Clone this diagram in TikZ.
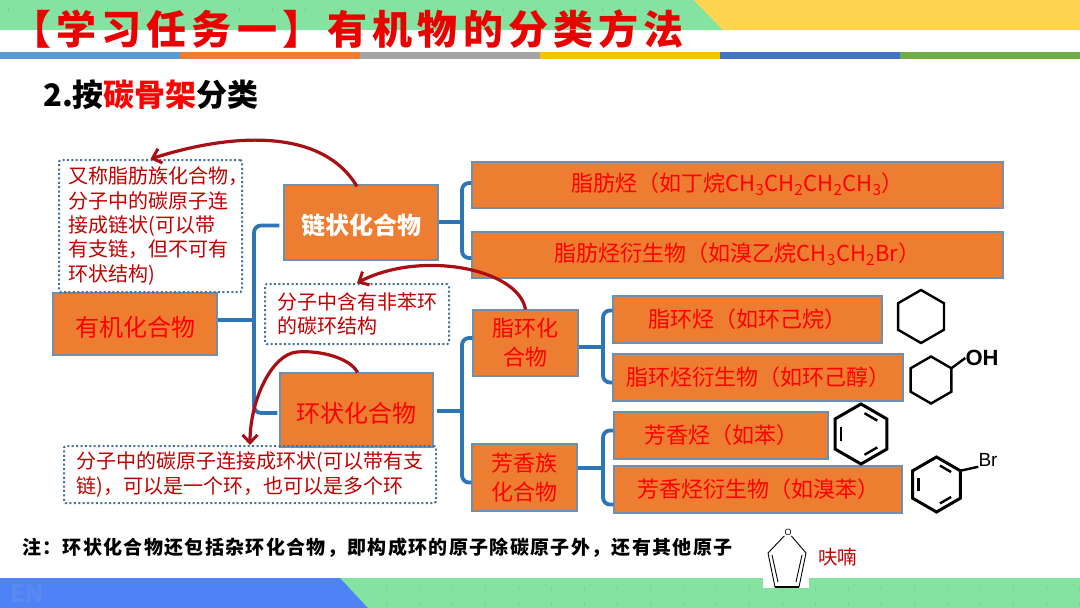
\documentclass[tikz,border=0pt]{standalone}
\usepackage{fontspec}
\usepackage{tikz}
\usetikzlibrary{arrows.meta,calc,positioning,shapes.geometric}
\setmainfont{Noto Sans CJK SC}
\newfontfamily\titlefont[LetterSpace=13]{Noto Sans CJK SC}
\newfontfamily\notefont[LetterSpace=7]{Noto Sans CJK SC}
\newfontfamily\latinfont{Liberation Sans}
\definecolor{leaf}{HTML}{84E3A0}
\definecolor{dotleaf}{HTML}{76D492}
\definecolor{sun}{HTML}{FFD54F}
\definecolor{sky}{HTML}{4E82F5}
\definecolor{enblue}{HTML}{5A89F2}
\definecolor{orangebox}{HTML}{ED7D31}
\definecolor{edgeblue}{HTML}{6D8FB0}
\definecolor{bracketblue}{HTML}{2E75B6}
\definecolor{dotblue}{HTML}{41719C}
\definecolor{darkred}{HTML}{C00000}
\definecolor{curvered}{HTML}{A80F14}
\newcommand{\subn}[1]{\textsubscript{#1}}
\newcommand{\innerbond}[3]{\draw[molbond,shorten >=4pt,shorten <=4pt] ($(#1.center)!.76!(#1.corner #2)$) -- ($(#1.center)!.76!(#1.corner #3)$);}
\tikzset{
  orangenode/.style={draw=edgeblue,line width=1.2pt,fill=orangebox,text=red,inner sep=0pt,align=center,font=\fontsize{22}{29}\selectfont},
  notenode/.style={draw=dotblue,line width=2pt,dash pattern=on 2pt off 2.4pt,rounded corners=1.5pt,inner sep=0pt,align=left,text=darkred,font=\fontsize{20}{24.4}\selectfont},
  bracket/.style={draw=bracketblue,line width=3.8pt,rounded corners=7pt},
  curvearrow/.style={draw=curvered,line width=3.2pt,-{Straight Barb[length=8pt,width=15pt,line width=3pt]}},
  molbond/.style={draw=black,line width=2.4pt},
  hexring/.style={regular polygon,regular polygon sides=6,shape border rotate=-30,draw=black,line width=2.4pt,inner sep=0pt,outer sep=0pt},
  lowtext/.style={text height=24pt,text depth=0pt},
  hightext/.style={text height=12pt,text depth=0pt}
}
\begin{document}
\begin{tikzpicture}[x=1pt,y=-1pt]
\useasboundingbox (0,0) rectangle (1080,608);
\fill[white] (0,0) rectangle (1080,608);
\fill[leaf] (0,0) -- (694,0) -- (723,30) -- (0,30) -- cycle;
\fill[sun] (694,0) -- (1080,0) -- (1080,30) -- (723,30) -- cycle;
\foreach \c [count=\i from 0] in {5B9BD5,ED7D31,A5A5A5,FFC000,4472C4,70AD47} {
  \definecolor{stripe}{HTML}{\c}
  \fill[stripe] (180*\i,52) rectangle ++(180,7);
}
\fill[leaf] (340,578) -- (1080,578) -- (1080,608) -- (368,608) -- cycle;
\fill[sky] (0,578) -- (340,578) -- (368,608) -- (0,608) -- cycle;
\foreach \k in {0,...,21} {
  \fill[dotleaf] (386+33*\k,587) rectangle ++(1,4);
  \fill[dotleaf] (386+33*\k,602) rectangle ++(1,4);
}
\foreach \k in {0,...,20} \fill[dotleaf] (8+33*\k,8) rectangle ++(1,4);
\node[anchor=west,inner sep=0pt,text=enblue] (en) at (10,594) {\fontsize{24}{24}\selectfont\bfseries EN};
\node[anchor=west,inner sep=0pt,text=red!92!black] (title) at (11,29) {\titlefont\fontsize{40}{44}\selectfont\bfseries 【学习任务一】有机物的分类方法};
\node[anchor=west,inner sep=0pt] (head) at (43,95) {\fontsize{31}{34}\selectfont\bfseries 2.按{\color{red}碳骨架}分类};

\node[orangenode,lowtext,minimum width=164pt,minimum height=62pt,font=\fontsize{24}{29}\selectfont] (org) at (135,324) {有机化合物};
\node[orangenode,lowtext,minimum width=154pt,minimum height=75pt,text=white,font=\fontsize{24}{29}\selectfont\bfseries] (chain) at (361,222.5) {链状化合物};
\node[orangenode,lowtext,minimum width=153pt,minimum height=74pt,font=\fontsize{24}{29}\selectfont] (cyc) at (356.5,410) {环状化合物};
\node[orangenode,hightext,minimum width=531pt,minimum height=46pt] (fat) at (737.5,185) {脂肪烃（如丁烷CH\subn{3}CH\subn{2}CH\subn{2}CH\subn{3}）};
\node[orangenode,hightext,minimum width=531pt,minimum height=46pt] (fatd) at (737.5,255) {脂肪烃衍生物（如溴乙烷CH\subn{3}CH\subn{2}Br）};
\node[orangenode,minimum width=105pt,minimum height=66pt] (ali) at (525.5,343) {脂环化\\合物};
\node[orangenode,minimum width=105pt,minimum height=67pt] (aro) at (524.5,477.5) {芳香族\\化合物};
\node[orangenode,minimum width=269pt,minimum height=47pt] (alih) at (747.5,319.5) {脂环烃（如环己烷）};
\node[orangenode,minimum width=290pt,minimum height=47pt] (alid) at (758,377.5) {脂环烃衍生物（如环己醇）};
\node[orangenode,minimum width=214pt,minimum height=47pt] (aroh) at (721,435.5) {芳香烃（如苯）};
\node[orangenode,minimum width=288pt,minimum height=47pt] (arod) at (758,489.5) {芳香烃衍生物（如溴苯）};

\node[notenode,minimum width=183pt,minimum height=132pt] (noa) at (150.5,226) {又称脂肪族化合物\makebox[4pt][l]{，}\\分子中的碳原子连\\接成链状(可以带\\有支链，但不可有\\环状结构)};
\node[notenode,minimum width=184pt,minimum height=60pt] (nob) at (357,314) {分子中含有非苯环\\的碳环结构};
\node[notenode,minimum width=372pt,minimum height=57pt] (noc) at (250,474.5) {分子中的碳原子连接成环状(可以带有支\\链)，可以是一个环，也可以是多个环};

\coordinate (ja) at (254,320);
\coordinate (jb) at (462,222);
\coordinate (jc) at (462,411);
\coordinate (jd) at (603,347);
\coordinate (je) at (603,468);
\draw[bracket] (org.east |- ja) -- (ja);
\draw[bracket] ($(chain.west)+(-4,3)$) -| (ja) |- ($(cyc.west)+(-2,3)$);
\draw[bracket] (chain.east |- jb) -- (jb);
\draw[bracket] ($(fat.west)+(0,-2)$) -| (jb) |- ($(fatd.west)+(0,3)$);
\draw[bracket] ($(cyc.east)+(3,1)$) -- (jc);
\draw[bracket] ($(ali.west)+(0,-5)$) -| (jc) |- ($(aro.west)+(0,5)$);
\draw[bracket] (ali.east |- jd) -- (jd);
\draw[bracket] ($(alih.west)+(0,-9)$) -| (jd) |- ($(alid.west)+(0,5)$);
\draw[bracket] (aro.east |- je) -- (je);
\draw[bracket] ($(aroh.west)+(0,-5)$) -| (je) |- ($(arod.west)+(0,15)$);

\draw[curvearrow] ($(chain.north)+(-4,2)$) .. controls (320,125) and (225,135) .. (noa.north);
\draw[curvearrow] (ali.north) .. controls (518,268) and (420,250) .. (nob.north);
\draw[curvearrow] ($(cyc.north)+(1,0)$) .. controls (350,358) and (320,350) .. (297,352) .. controls (272,354) and (250,400) .. (noc.north);

\node[hexring,minimum size=53pt] (hexa) at (921,316.5) {};
\node[hexring,minimum size=47pt] (hexb) at (931,380) {};
\node[inner sep=0pt,font=\latinfont\bfseries\fontsize{22}{22}\selectfont] (oh) at (982,358) {OH};
\draw[molbond] (hexb.corner 1) -- (oh.west);
\node[hexring,minimum size=60pt,line width=3pt] (bena) at (861,434) {};
\innerbond{bena}{2}{1}
\innerbond{bena}{3}{4}
\innerbond{bena}{5}{6}
\node[hexring,minimum size=55pt,line width=3pt] (benb) at (936.5,484.5) {};
\innerbond{benb}{2}{1}
\innerbond{benb}{3}{4}
\innerbond{benb}{5}{6}
\node[inner sep=0pt,font=\latinfont\fontsize{19}{19}\selectfont] (br) at (988,460) {Br};
\draw[molbond] (benb.corner 1) -- (br.south west);

\node[anchor=west,inner sep=0pt] (foot) at (22,548) {\notefont\fontsize{19}{22}\selectfont\bfseries 注：环状化合物还包括杂环化合物，即构成环的原子除碳原子外，还有其他原子};
\fill[white] (763,578) rectangle (809,588);
\node[inner sep=0.5pt,font=\latinfont\fontsize{9}{9}\selectfont] (oxy) at (788,532) {O};
\coordinate (fa) at (768,553);
\coordinate (fb) at (775,587);
\coordinate (fc) at (799,587);
\coordinate (fd) at (806,553);
\draw[line width=0.9pt] (oxy) -- (fa) -- (fb);
\draw[line width=0.9pt] (oxy) -- (fd) -- (fc);
\draw[line width=2pt] (fb) -- (fc);
\draw[line width=0.9pt] (772,555) -- (778,582);
\draw[line width=0.9pt] (802,555) -- (796,582);
\node[anchor=west,inner sep=0pt,text=darkred,font=\fontsize{19.5}{22}\selectfont] (fur) at (818,557) {呋喃};
\end{tikzpicture}
\end{document}
